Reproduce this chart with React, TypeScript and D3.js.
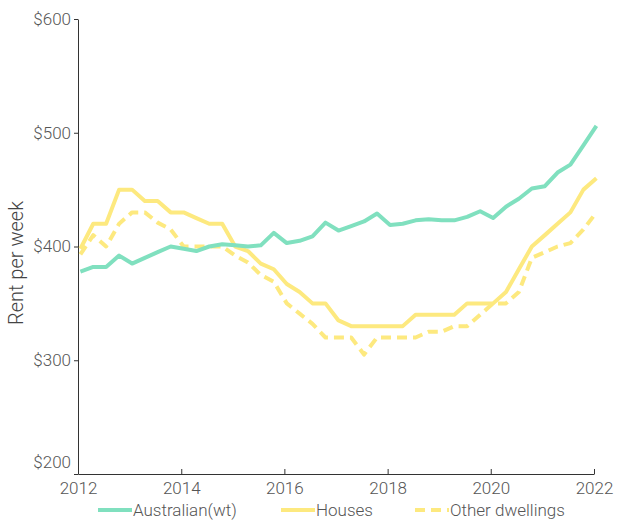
import React, { useEffect, useRef } from 'react';
import * as d3 from 'd3';

// quarterly observations, Jan 2012 .. Jan 2022
const startYear = 2012;
const australian = [
  378, 382, 382, 392, 385, 390, 395, 400, 398, 396, 400, 402, 401, 400, 401, 412,
  403, 405, 409, 421, 414, 418, 422, 429, 419, 420, 423, 424, 423, 423, 426, 431,
  425, 435, 442, 451, 453, 465, 472, 489, 506,
];
const houses = [
  398, 420, 420, 450, 450, 440, 440, 430, 430, 425, 420, 420, 400, 396, 385, 380,
  367, 360, 350, 350, 335, 330, 330, 330, 330, 330, 340, 340, 340, 340, 350, 350,
  350, 360, 380, 400, 410, 420, 430, 450, 460,
];
const otherDwellings = [
  393, 410, 400, 420, 430, 430, 421, 415, 400, 400, 400, 400, 392, 386, 375, 369,
  350, 341, 332, 320, 320, 320, 305, 320, 320, 320, 320, 325, 325, 330, 330, 340,
  350, 350, 360, 390, 395, 400, 403, 415, 430,
];
const yTicks = [200, 300, 400, 500, 600];
const xTicks = [2012, 2014, 2016, 2018, 2020, 2022];

const seriesNames = ['Australian(wt)', 'Houses', 'Other dwellings'];
const colors = ['#80e0bf', '#fde97f', '#fde97f'];
const dashes = [null, null, '10,6'];

const App = () => {
  const svgRef = useRef(null);
  const width = 617;
  const height = 521;
  const margin = { top: 19, right: 23, bottom: 47, left: 78 };
  const font = 'Roboto, "Noto Sans", sans-serif';

  useEffect(() => {
    const svg = d3.select(svgRef.current);
    svg.selectAll('*').remove();

    const dates = australian.map((_, i) => new Date(startYear, i * 3, 18));

    const x = d3
      .scaleTime()
      .domain([new Date(2012, 0, 1), new Date(2022, 0, 1)])
      .range([margin.left, width - margin.right]);
    const y = d3
      .scaleLinear()
      .domain([200, 600])
      .range([height - margin.bottom, margin.top]);

    const styleText = sel =>
      sel
        .attr('fill', '#555')
        .style('font-family', font)
        .style('font-size', '17px')
        .style('font-weight', 300);

    const xAxis = svg
      .append('g')
      .attr('transform', `translate(0,${height - margin.bottom})`)
      .call(
        d3
          .axisBottom(x)
          .tickValues(xTicks.map(t => new Date(t, 0, 1)))
          .tickFormat(d3.timeFormat('%Y'))
          .tickSizeInner(-5)
          .tickSizeOuter(0)
          .tickPadding(8)
      );
    xAxis.select('.domain').attr('stroke', '#333');
    xAxis.selectAll('line').attr('stroke', '#333');
    xAxis.selectAll('text').call(styleText);

    const yAxis = svg
      .append('g')
      .attr('transform', `translate(${margin.left},0)`)
      .call(
        d3
          .axisLeft(y)
          .tickValues(yTicks)
          .tickFormat(d => `$${d}`)
          .tickSize(4)
          .tickSizeOuter(0)
          .tickPadding(3)
      );
    yAxis.select('.domain').attr('stroke', '#333');
    yAxis.selectAll('line').attr('stroke', '#333');
    yAxis.selectAll('text').call(styleText);
    yAxis
      .selectAll('.tick')
      .filter(d => d === 200)
      .select('text')
      .attr('dy', '-0.4em');

    svg
      .append('text')
      .attr('transform', `translate(23,263) rotate(-90)`)
      .attr('text-anchor', 'middle')
      .attr('fill', '#444')
      .style('font-family', font)
      .style('font-size', '20px')
      .style('font-weight', 300)
      .text('Rent per week');

    const line = d3
      .line()
      .x((_, i) => x(dates[i]))
      .y(d => y(d));

    const series = [australian, houses, otherDwellings];
    const order = [2, 1, 0];
    order.forEach(k => {
      svg
        .append('path')
        .datum(series[k])
        .attr('d', line)
        .attr('fill', 'none')
        .attr('stroke', colors[k])
        .attr('stroke-width', 4)
        .attr('stroke-linejoin', 'round')
        .attr('stroke-dasharray', dashes[k]);
    });

    // legend
    const legendX = [98, 281, 415];
    const legendY = 510;
    const legend = svg.append('g');
    seriesNames.forEach((name, k) => {
      legend
        .append('line')
        .attr('x1', legendX[k])
        .attr('x2', legendX[k] + 34)
        .attr('y1', legendY)
        .attr('y2', legendY)
        .attr('stroke', colors[k])
        .attr('stroke-width', 4)
        .attr('stroke-dasharray', dashes[k]);
      legend
        .append('text')
        .attr('x', legendX[k] + 35)
        .attr('y', legendY)
        .attr('dy', '0.35em')
        .call(styleText)
        .text(name);
    });
  }, []);

  return (
    <svg
      ref={svgRef}
      width={width}
      height={height}
      style={{ position: 'absolute', left: 0, top: 0 }}
    ></svg>
  );
};

export default App;
